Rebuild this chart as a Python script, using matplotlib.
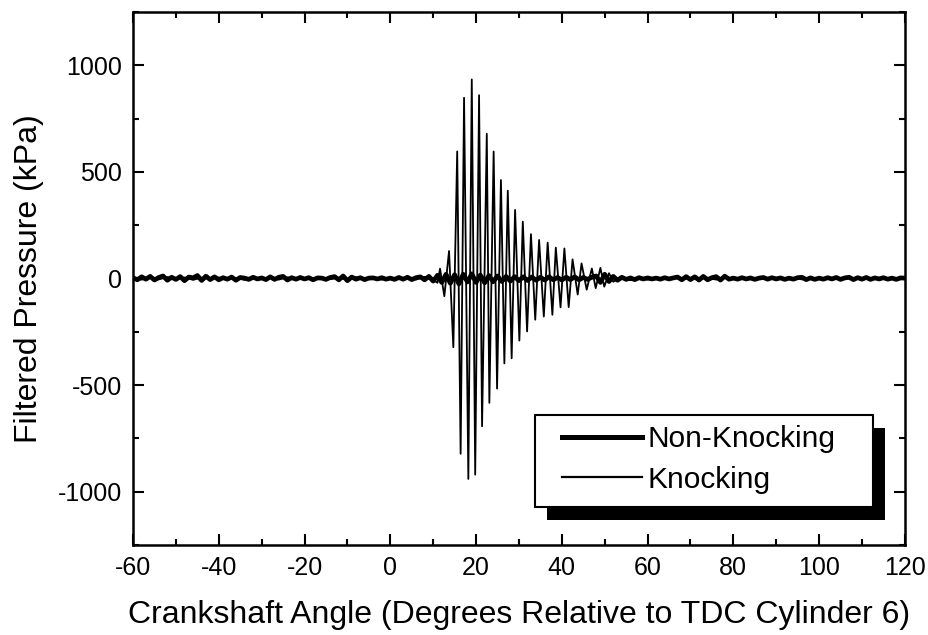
import numpy as np
import matplotlib
matplotlib.use("Agg")
import matplotlib.pyplot as plt
from matplotlib.patches import Rectangle
from matplotlib.ticker import MultipleLocator

plt.rcParams['font.family'] = ['Liberation Sans', 'DejaVu Sans']
plt.rcParams['axes.unicode_minus'] = False

# non-knocking cycle, one sample per degree from -60 to 120
nonknock_angle = np.arange(-60, 121, 1)
nonknock_kpa = [
    4, -6, 8, -3, 10, -7, 5, 12, -8, 6,
    -4, 9, -10, 7, 3, 14, -9, 11, -5, 8,
    -6, 4, -3, 7, -8, 5, 2, -4, 6, -2,
    3, -5, 8, -4, 6, 10, -7, 4, -3, 5,
    -2, 4, -6, 3, 2, -4, 5, 9, -6, 12,
    -10, 7, -3, 4, -5, 2, 3, -2, 4, -3,
    2, -4, 5, -3, 6, -5, 4, 8, -6, 10,
    -12, 15, -18, 20, -22, 18, -25, 20, -16, 22,
    -18, 16, -20, 14, -15, 12, -14, 10, -12, 9,
    -10, 8, -9, 7, -8, 6, -7, 8, -6, 5,
    -7, 6, -5, 8, -6, 5, -4, 6, 12, -18,
    20, -14, 10, -8, 6, -4, 3, -5, 4, -2,
    3, -2, 2, -3, 4, -2, 3, 7, -6, 9,
    -5, 8, -7, 10, -6, 4, 9, -7, 11, -3,
    2, -3, 4, -2, 3, -4, 2, 5, -3, 4,
    -2, 3, -4, 2, -3, 4, 6, -5, 3, -4,
    2, -3, 4, -2, 5, -4, 3, 6, -5, 4,
    -3, 5, -4, 3, -2, 4, -3, 2, -4, 3,
    2,
]

# knocking cycle: quiet before ignition, ringing peaks, quiet tail
knock_pre_angle = np.arange(-60, 11, 2)
knock_pre_kpa = [3, -5, 6, -4, 7, -3, 5, -6, 4, -2,
                 5, -4, 3, -6, 5, -3, 4, -5, 6, -2,
                 3, -4, 5, -3, 4, -6, 7, -4, 3, -5,
                 4, -3, 6, -5, 8, -6]
knock_ring_angle = [11.0, 11.6, 12.6, 13.7, 14.7, 15.6, 16.4, 17.2, 18.2, 19.0,
                    19.8, 20.7, 21.4, 22.5, 23.1, 24.1, 24.9, 25.8, 26.6, 27.4,
                    28.3, 29.1, 30.1, 30.9, 31.9, 32.8, 33.8, 34.7, 35.8, 36.7,
                    37.8, 38.6, 39.7, 40.6, 41.6, 42.5, 43.7, 44.6, 45.8, 47.0,
                    47.9, 49.0, 49.9, 51.0, 52.0]
knock_ring_kpa = [-20, 46, -83, 129, -322, 596, -822, 848, -940, 934,
                  -920, 860, -693, 679, -583, 596, -516, 462, -398, 412,
                  -374, 322, -291, 267, -248, 208, -193, 181, -178, 168,
                  -170, 145, -135, 141, -134, 90, -75, 71, -52, 47,
                  -45, 50, -38, 25, -15]
knock_post_angle = np.arange(54, 121, 2)
knock_post_kpa = [10, -8, 6, -5, 4, -3, 5, -4, 3, -2,
                  4, -5, 6, -3, 5, -4, 3, -5, 4, -2,
                  3, -4, 2, -3, 4, -2, 3, -4, 2, -3,
                  4, -2, 3, -3]

knock_angle = np.concatenate([knock_pre_angle, knock_ring_angle, knock_post_angle])
knock_kpa = np.concatenate([knock_pre_kpa, knock_ring_kpa, knock_post_kpa])

fig = plt.figure(figsize=(9.29, 6.35), dpi=100)
ax = fig.add_axes([0.1432, 0.1417, 0.8308, 0.8393])

ax.plot(nonknock_angle, nonknock_kpa, color='black', linewidth=3.4, label='Non-Knocking')
ax.plot(knock_angle, knock_kpa, color='black', linewidth=1.3, label='Knocking')

ax.set_xlim(-60, 120)
ax.set_ylim(-1250, 1250)
ax.xaxis.set_major_locator(MultipleLocator(20))
ax.xaxis.set_minor_locator(MultipleLocator(10))
ax.yaxis.set_major_locator(MultipleLocator(500))
ax.yaxis.set_minor_locator(MultipleLocator(250))
ax.tick_params(which='both', direction='in', top=True, right=True, width=1.5)
ax.tick_params(which='major', length=8, labelsize=18, pad=8)
ax.tick_params(which='minor', length=4)
for s in ax.spines.values():
    s.set_linewidth(1.8)

ax.set_xlabel('Crankshaft Angle (Degrees Relative to TDC Cylinder 6)', fontsize=23, labelpad=14)
ax.set_ylabel('Filtered Pressure (kPa)', fontsize=23, labelpad=10)

# legend box with a solid offset shadow, drawn by hand
box_x0, box_y0, box_w, box_h = 0.521, 0.0713, 0.4375, 0.1727
shadow = Rectangle((box_x0 + 12 / 772, box_y0 - 13 / 533), box_w, box_h, transform=ax.transAxes,
                   facecolor='black', edgecolor='none', zorder=8, clip_on=False)
box = Rectangle((box_x0, box_y0), box_w, box_h, transform=ax.transAxes,
                facecolor='white', edgecolor='black', linewidth=1.5, zorder=9, clip_on=False)
ax.add_patch(shadow)
ax.add_patch(box)

leg = ax.legend(loc='center left', bbox_to_anchor=(0.5557, 0.1604), borderaxespad=0,
                borderpad=0, fontsize=21.5, handlelength=2.68, handletextpad=0.2,
                labelspacing=0.42, frameon=False)
leg.set_zorder(10)
leg.get_lines()[0].set_linewidth(3.6)
leg.get_lines()[1].set_linewidth(1.6)

fig.savefig('out.png', dpi=100)
